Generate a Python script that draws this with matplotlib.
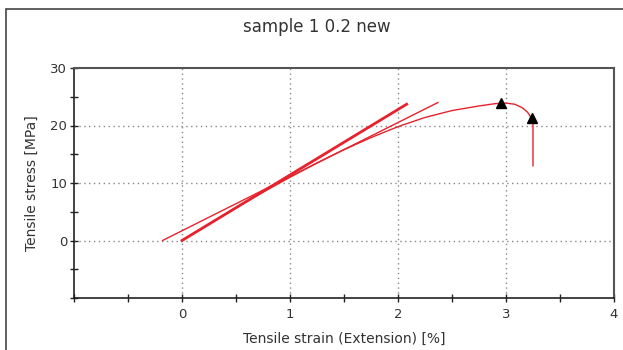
import numpy as np
import matplotlib.pyplot as plt
from matplotlib.patches import Rectangle
from matplotlib.ticker import MultipleLocator, FuncFormatter

# measured curve
strain = [0, 0.25, 0.5, 0.75, 1.0, 1.25, 1.5, 1.75, 2.0, 2.25, 2.5, 2.75, 2.9, 3.0,
          3.08, 3.15, 3.2, 3.235, 3.25, 3.25]
stress = [0, 2.9, 5.7, 8.4, 11.0, 13.5, 15.8, 17.9, 19.8, 21.4, 22.6, 23.4, 23.8, 23.9,
          23.7, 23.1, 22.3, 21.3, 20.2, 13.0]

# fitted modulus lines
fit1_x = [0.0, 2.08]
fit1_y = [0.0, 23.7]
fit2_x = [-0.18, 2.37]
fit2_y = [0.0, 24.0]

# result markers
mark_x = [2.95, 3.24]
mark_y = [23.9, 21.3]

title = "sample 1 0.2 new"
xlab = "Tensile strain (Extension) [%]"
ylab = "Tensile stress [MPa]"

red = "#e8222c"
txt = "#333333"

fig = plt.figure(figsize=(6.23, 3.5), dpi=100)
ax = fig.add_axes([74/623, 52/350, 540/623, 230/350])

# outer frame (runs off the right and bottom edges)
fig.patches.append(Rectangle((6/623, -10/350), 640/623, 351/350, transform=fig.transFigure,
                             fill=False, edgecolor="#444444", linewidth=1.2))

ax.plot(fit1_x, fit1_y, color=red, lw=2.0, zorder=3)
ax.plot(fit2_x, fit2_y, color=red, lw=1.0, zorder=3)
ax.plot(strain, stress, color=red, lw=1.0, zorder=3)
ax.plot(mark_x, mark_y, "k^", ms=7, zorder=4)

ax.set_xlim(-1, 4)
ax.set_ylim(-10, 30)
ax.xaxis.set_major_locator(MultipleLocator(1))
ax.xaxis.set_minor_locator(MultipleLocator(0.5))
ax.yaxis.set_major_locator(MultipleLocator(10))
ax.yaxis.set_minor_locator(MultipleLocator(5))
ax.xaxis.set_major_formatter(FuncFormatter(lambda v, p: "" if v < -0.5 else "%d" % v))
ax.yaxis.set_major_formatter(FuncFormatter(lambda v, p: "" if v < -5 else "%d" % v))

ax.tick_params(which="both", direction="inout", length=6, width=1, colors="#222222",
               labelsize=9.5, labelcolor=txt, top=False, right=False)
ax.tick_params(axis="x", pad=4)
ax.tick_params(axis="y", pad=2)

for v in [0, 1, 2, 3]:
    ax.axvline(v, color="#888888", lw=1, ls=(0, (1, 2.5)), zorder=1)
for v in [0, 10, 20]:
    ax.axhline(v, color="#888888", lw=1, ls=(0, (1, 2.5)), zorder=1)

for s in ["left", "bottom"]:
    ax.spines[s].set_color("#222222")
    ax.spines[s].set_linewidth(1.2)
for s in ["top", "right"]:
    ax.spines[s].set_color("#555555")
    ax.spines[s].set_linewidth(1.5)

ax.set_xlabel(xlab, fontsize=10, color=txt, labelpad=8)
ax.set_ylabel(ylab, fontsize=10, color=txt, labelpad=8)
fig.text(317/623, 1 - 27/350, title, ha="center", va="center", fontsize=12, color=txt)

plt.savefig("out.png", dpi=100)
